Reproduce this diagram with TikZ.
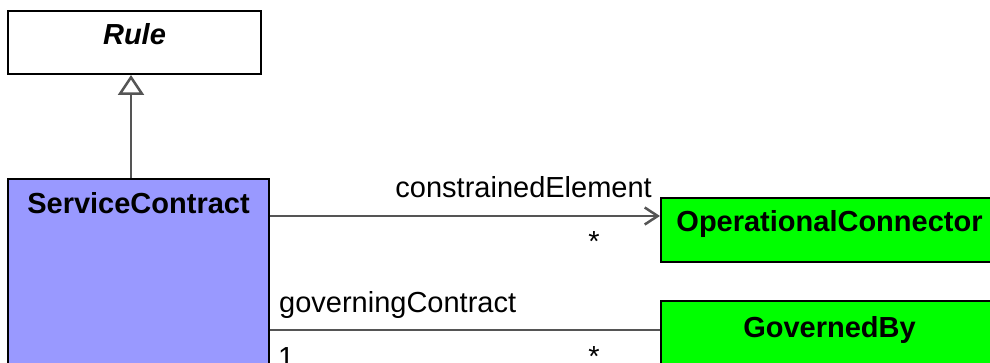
\documentclass[tikz,border=0pt]{standalone}
\usepackage{fontspec}
\setmainfont{Liberation Sans}
\usetikzlibrary{arrows.meta, calc, positioning}
\definecolor{uml_blue}{RGB}{153,153,255}
\definecolor{uml_green}{RGB}{0,255,0}
\definecolor{uml_line}{RGB}{85,85,85}
\tikzset{
    classbox/.style={
        draw=black, line width=2pt, inner sep=0pt, anchor=north west
    },
    classname/.style={
        anchor=base, inner sep=0pt,
        font=\fontsize{29}{34}\selectfont\bfseries
    },
    rolename/.style={
        inner sep=0pt, font=\fontsize{29}{34}\selectfont
    },
    assoc/.style={draw=uml_line, line width=2.5pt},
}

\begin{document}
\begin{tikzpicture}[x=1pt, y=-1pt]
    \useasboundingbox (0,0) rectangle (990,363);
    \clip (0,0) rectangle (990,363);

    % classes
    \node[classbox, fill=white, minimum width=253pt, minimum height=63pt]
        (rule) at (7,10) {};
    \node[classname, font=\fontsize{29}{34}\selectfont\bfseries\itshape]
        (ruleName) at ([yshift=-35pt]rule.north) {Rule};

    \node[classbox, fill=uml_blue, minimum width=261pt, minimum height=240pt]
        (contract) at (7,178) {};
    \node[classname] (contractName) at ([yshift=-36pt]contract.north)
        {ServiceContract};

    \node[classbox, fill=uml_green, minimum width=337pt, minimum height=64pt]
        (connector) at (660,197) {};
    \node[classname] (connectorName) at ([yshift=-35pt]connector.north)
        {OperationalConnector};

    \node[classbox, fill=uml_green, minimum width=337pt, minimum height=120pt]
        (governed) at (660,300) {};
    \node[classname] (governedName) at ([yshift=-37pt]governed.north)
        {GovernedBy};

    % generalization
    \coordinate (genTip) at ([xshift=-3.5pt]rule.south);
    \draw[assoc, -{Triangle[open, length=20pt, width=26pt, fill=white]}]
        (contract.north -| genTip) -- (genTip);

    % constrainedElement
    \coordinate (ceEnd) at ([yshift=14pt]connector.west);
    \draw[assoc, -{Straight Barb[length=13pt, width=17pt]}]
        (contract.east |- ceEnd) -- (ceEnd);
    \node[rolename, anchor=base east] (ceRole)
        at ([xshift=-8pt, yshift=18pt]ceEnd) {constrainedElement};
    \node[rolename, anchor=base] (ceMult)
        at ([xshift=-66pt, yshift=-36pt]ceEnd) {*};

    % governingContract
    \coordinate (gcEnd) at ([yshift=-30pt]governed.north west);
    \draw[assoc] (contract.east |- gcEnd) -- (gcEnd);
    \node[rolename, anchor=base west] (gcRole)
        at ([xshift=9pt, yshift=18pt]contract.east |- gcEnd) {governingContract};
    \node[rolename, anchor=base west] (gcOne)
        at ([xshift=8pt, yshift=-37pt]contract.east |- gcEnd) {1};
    \node[rolename, anchor=base] (gcMult)
        at ([xshift=-66pt, yshift=-36pt]gcEnd) {*};
\end{tikzpicture}
\end{document}
